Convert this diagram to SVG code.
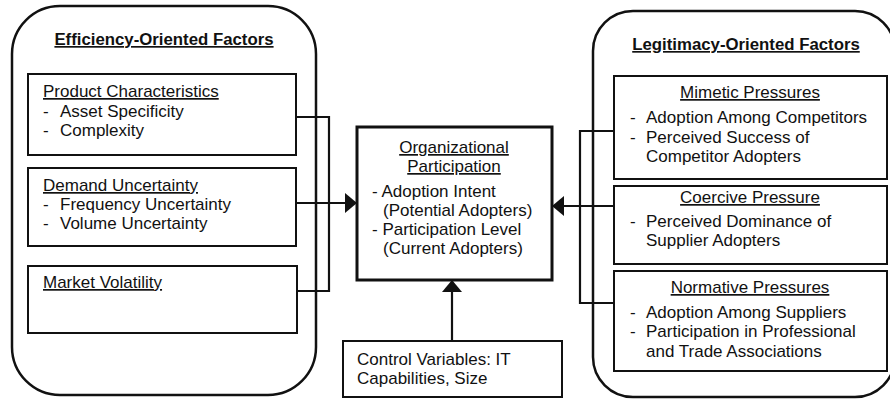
<svg xmlns="http://www.w3.org/2000/svg" width="890" height="399" viewBox="0 0 890 399">
<defs>
<style>
text{font-family:"Liberation Sans",Arial,sans-serif;font-size:17px;fill:#111}
.b{font-weight:bold;font-size:16.8px}
.u{text-decoration:underline}
.m{text-anchor:middle}
.cont{fill:none;stroke:#111;stroke-width:2.5}
.box{fill:#fff;stroke:#111;stroke-width:2}
.cbox{fill:#fff;stroke:#111;stroke-width:3}
.ln{fill:none;stroke:#111;stroke-width:2.2}
</style>
<marker id="ah" viewBox="0 0 12 20" refX="12" refY="10" markerWidth="12" markerHeight="20" markerUnits="userSpaceOnUse" orient="auto">
<path d="M0,0 L12,10 L0,20 Z" fill="#111"/>
</marker>
</defs>
<rect width="890" height="399" fill="#fff"/>
<g id="efficiency">
<rect class="cont" x="12" y="6" width="304" height="389" rx="48" ry="48"/>
<text class="b u m" x="164" y="45">Efficiency-Oriented Factors</text>
</g>
<g id="legitimacy">
<rect class="cont" x="593" y="11" width="302" height="386" rx="40" ry="40"/>
<text class="b u m" x="746" y="50">Legitimacy-Oriented Factors</text>
</g>
<g id="connectors">
<path class="ln" d="M296,117 H329 V291 H297"/>
<path class="ln" d="M296,203 H357" marker-end="url(#ah)"/>
<path class="ln" d="M614,131 H580 V303 H614"/>
<path class="ln" d="M614,206 H552" marker-end="url(#ah)"/>
<path class="ln" d="M452,341 V280" marker-end="url(#ah)"/>
</g>
<g id="product">
<rect class="box" x="28" y="74" width="268" height="81"/>
<text class="u" x="43" y="97">Product Characteristics</text>
<text x="43" y="117">-</text><text x="60" y="117">Asset Specificity</text>
<text x="43" y="136">-</text><text x="60" y="136">Complexity</text>
</g>
<g id="demand">
<rect class="box" x="28" y="168" width="268" height="78"/>
<text class="u" x="43" y="191">Demand Uncertainty</text>
<text x="43" y="210">-</text><text x="60" y="210">Frequency Uncertainty</text>
<text x="43" y="229">-</text><text x="60" y="229">Volume Uncertainty</text>
</g>
<g id="market">
<rect class="box" x="28" y="266" width="269" height="67"/>
<text class="u" x="43" y="288">Market Volatility</text>
</g>
<g id="participation">
<rect class="cbox" x="357" y="127" width="195" height="153"/>
<text class="u m" x="454" y="153">Organizational</text>
<text class="u m" x="454" y="172">Participation</text>
<text x="372" y="197">- Adoption Intent</text>
<text x="383" y="216">(Potential Adopters)</text>
<text x="372" y="235">- Participation Level</text>
<text x="383" y="254">(Current Adopters)</text>
</g>
<g id="control">
<rect class="box" x="343" y="341" width="219" height="56"/>
<text x="357" y="365">Control Variables: IT</text>
<text x="357" y="384">Capabilities, Size</text>
</g>
<g id="mimetic">
<rect class="box" x="614" y="76" width="273" height="103"/>
<text class="u m" x="750" y="98">Mimetic Pressures</text>
<text x="630" y="123">-</text><text x="646" y="123">Adoption Among Competitors</text>
<text x="630" y="143">-</text><text x="646" y="143">Perceived Success of</text>
<text x="646" y="162">Competitor Adopters</text>
</g>
<g id="coercive">
<rect class="box" x="614" y="186" width="273" height="78"/>
<text class="u m" x="750" y="203">Coercive Pressure</text>
<text x="630" y="227">-</text><text x="646" y="227">Perceived Dominance of</text>
<text x="646" y="246">Supplier Adopters</text>
</g>
<g id="normative">
<rect class="box" x="614" y="271" width="273" height="100"/>
<text class="u m" x="750" y="293">Normative Pressures</text>
<text x="630" y="318">-</text><text x="646" y="318">Adoption Among Suppliers</text>
<text x="630" y="337">-</text><text x="646" y="337">Participation in Professional</text>
<text x="646" y="357">and Trade Associations</text>
</g>
</svg>
